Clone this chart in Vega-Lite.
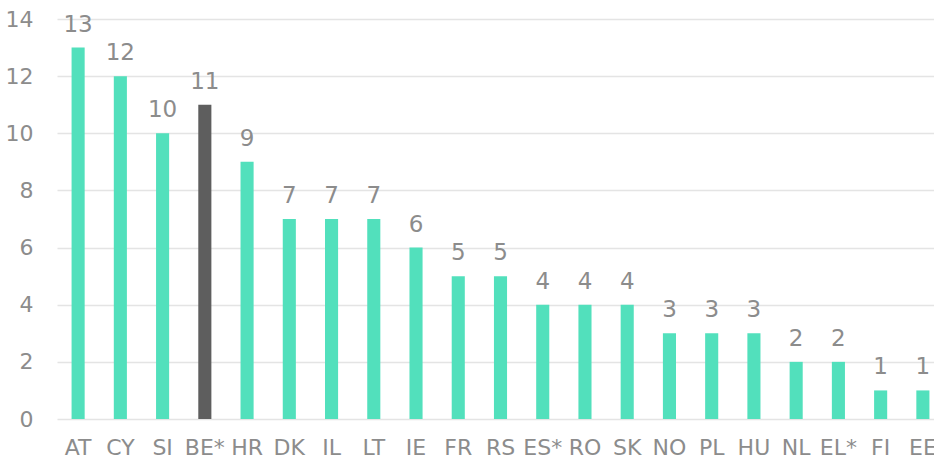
{
  "$schema": "https://vega.github.io/schema/vega-lite/v6.json",
  "width": 887,
  "height": 400,
  "autosize": {"type": "none"},
  "padding": {"left": 57, "top": 19, "right": 0, "bottom": 42},
  "background": "white",
  "config": {"view": {"stroke": null}, "font": "DejaVu Sans"},
  "data": {"values": [
    {"c": "AT", "v": 13, "g": "a"},
    {"c": "CY", "v": 12, "g": "a"},
    {"c": "SI", "v": 10, "g": "a"},
    {"c": "BE*", "v": 11, "g": "b"},
    {"c": "HR", "v": 9, "g": "a"},
    {"c": "DK", "v": 7, "g": "a"},
    {"c": "IL", "v": 7, "g": "a"},
    {"c": "LT", "v": 7, "g": "a"},
    {"c": "IE", "v": 6, "g": "a"},
    {"c": "FR", "v": 5, "g": "a"},
    {"c": "RS", "v": 5, "g": "a"},
    {"c": "ES*", "v": 4, "g": "a"},
    {"c": "RO", "v": 4, "g": "a"},
    {"c": "SK", "v": 4, "g": "a"},
    {"c": "NO", "v": 3, "g": "a"},
    {"c": "PL", "v": 3, "g": "a"},
    {"c": "HU", "v": 3, "g": "a"},
    {"c": "NL", "v": 2, "g": "a"},
    {"c": "EL*", "v": 2, "g": "a"},
    {"c": "FI", "v": 1, "g": "a"},
    {"c": "EE", "v": 1, "g": "a"}
  ]},
  "encoding": {
    "x": {"field": "c", "type": "nominal", "sort": null,
      "scale": {"paddingInner": 0.69, "paddingOuter": 0.345},
      "axis": {"title": null, "labelAngle": 0, "labelFontSize": 22, "labelColor": "#8c8c8c", "ticks": false, "domain": false, "labelPadding": 18, "labelOverlap": false, "labelBound": false}},
    "y": {"field": "v", "type": "quantitative",
      "scale": {"domain": [0, 14]},
      "axis": {"title": null, "values": [0, 2, 4, 6, 8, 10, 12, 14], "labelFontSize": 22, "labelColor": "#8c8c8c", "ticks": false, "domain": false, "labelPadding": 24, "gridColor": "#e4e4e4", "gridWidth": 1.5}}
  },
  "layer": [
    {"mark": {"type": "bar"},
     "encoding": {"color": {"field": "g", "type": "nominal", "legend": null,
       "scale": {"domain": ["a", "b"], "range": ["#52E0BC", "#5E5E5E"]}}}},
    {"mark": {"type": "text", "dy": -16, "fontSize": 23, "color": "#8c8c8c", "baseline": "alphabetic"},
     "encoding": {"text": {"field": "v", "type": "quantitative"}}}
  ]
}
